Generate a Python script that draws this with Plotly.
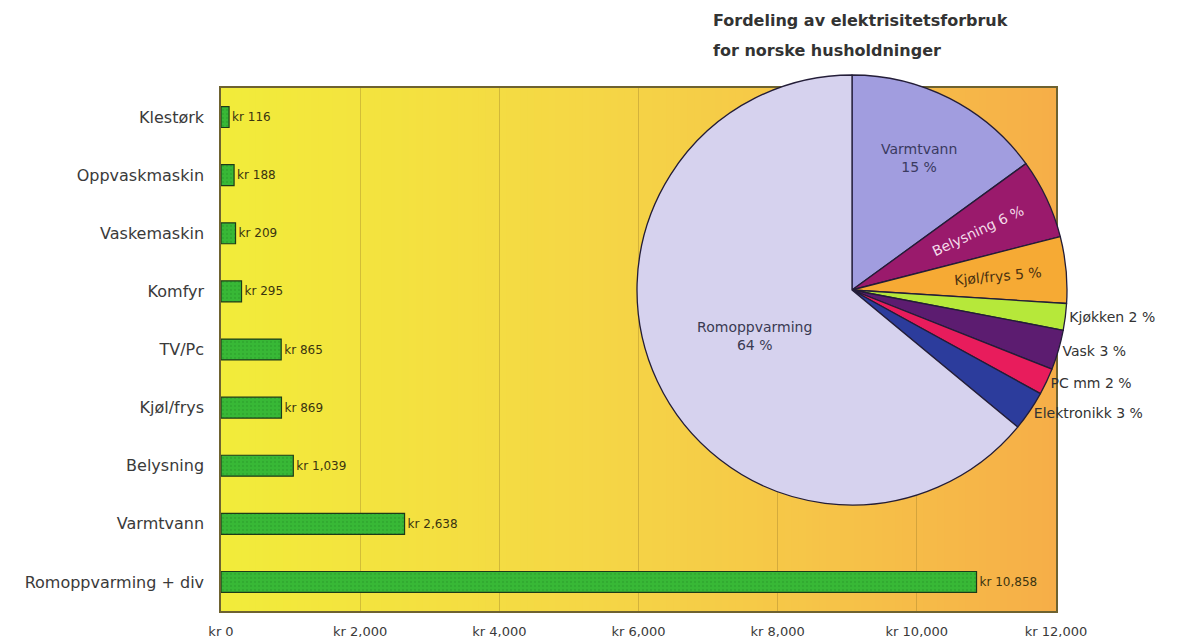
import plotly.graph_objects as go

# Annual electricity cost per appliance group (NOK)
categories = ["Romoppvarming + div", "Varmtvann", "Belysning", "Kjøl/frys", "TV/Pc",
              "Komfyr", "Vaskemaskin", "Oppvaskmaskin", "Klestørk"]
costs = [10858, 2638, 1039, 869, 865, 295, 209, 188, 116]

# Share of household electricity use (%)
pie_labels = ["Varmtvann", "Belysning", "Kjøl/frys", "Kjøkken", "Vask", "PC mm",
              "Elektronikk", "Romoppvarming"]
pie_shares = [15, 6, 5, 2, 3, 2, 3, 64]
pie_colors = ["#a19ddf", "#9a1a6c", "#f6aa34", "#b6e83a", "#5c1c70", "#e81c5c",
              "#2c3c9c", "#d6d2ee"]
pie_textpos = ["inside", "inside", "inside", "outside", "outside", "outside",
               "outside", "inside"]
pie_linebreak = {"Varmtvann", "Romoppvarming"}

title_lines = ["Fordeling av elektrisitetsforbruk", "for norske husholdninger"]

x_ticks = [0, 2000, 4000, 6000, 8000, 10000, 12000]

W, H = 1181, 639
FONT = "DejaVu Sans"
TEXT = "#3a3a3a"

fig = go.Figure()

fig.add_trace(go.Bar(
    y=categories, x=costs, orientation="h",
    width=0.36,
    marker=dict(color="#38b836", line=dict(color="#1d3a18", width=1.2),
                pattern=dict(shape=".", fgcolor="#2a9a2a", size=4, solidity=0.25)),
    text=[f"kr {v:,}" for v in costs],
    textposition="outside", cliponaxis=False,
    textfont=dict(family=FONT, size=12, color="#3a3410"),
    hoverinfo="skip", showlegend=False,
))

pie_text = [f"{l}<br>{v} %" if l in pie_linebreak else f"{l} {v} %"
            for l, v in zip(pie_labels, pie_shares)]
cx, cy, r = 852, 290, 215
fig.add_trace(go.Pie(
    labels=pie_labels, values=pie_shares, text=pie_text,
    textinfo="text", textposition=pie_textpos,
    insidetextorientation="auto",
    sort=False, direction="clockwise", rotation=0,
    marker=dict(colors=pie_colors, line=dict(color="#231d38", width=1.3)),
    textfont=dict(family=FONT, size=14, color="#3a3a52"),
    insidetextfont=dict(family=FONT, size=14,
                        color=["#3a3a60", "#f4dcea", "#4a3010", "#333", "#333",
                               "#333", "#333", "#3a3a52"]),
    outsidetextfont=dict(family=FONT, size=14, color="#333333"),
    domain=dict(x=[(cx - r) / W, (cx + r) / W], y=[(H - cy - r) / H, (H - cy + r) / H]),
    showlegend=False, hoverinfo="skip",
))

# Yellow-to-orange background of the bar plot area
def lerp(c1, c2, t):
    return tuple(round(a + (b - a) * t) for a, b in zip(c1, c2))

stops = [(0.0, (242, 236, 58)), (0.45, (245, 214, 70)), (0.75, (246, 194, 72)),
         (1.0, (246, 174, 72))]
shapes = []
n = 120
for i in range(n):
    t = (i + 0.5) / n
    for (t0, c0), (t1, c1) in zip(stops[:-1], stops[1:]):
        if t0 <= t <= t1:
            col = lerp(c0, c1, (t - t0) / (t1 - t0))
            break
    shapes.append(dict(type="rect", xref="x domain", yref="y domain",
                       x0=i / n, x1=(i + 1) / n + 0.002, y0=0, y1=1,
                       fillcolor="rgb(%d,%d,%d)" % col, line=dict(width=0),
                       layer="below"))

# Two-line pie heading, with generous line spacing
title_ann = [dict(text=f"<b>{line}</b>", xref="paper", yref="paper",
                  x=711 / W, y=1 - (20 + 30 * k) / H,
                  xanchor="left", yanchor="middle", showarrow=False,
                  font=dict(family=FONT, size=16, color="#333333"))
             for k, line in enumerate(title_lines)]

fig.update_layout(
    width=W, height=H,
    margin=dict(l=0, r=0, t=0, b=0, pad=0, autoexpand=False),
    paper_bgcolor="white", plot_bgcolor="rgba(0,0,0,0)",
    shapes=shapes,
    font=dict(family=FONT, color=TEXT),
    xaxis=dict(domain=[221 / W, 1056 / W], range=[0, 12000],
               tickvals=x_ticks, ticktext=[f"kr {v:,}" for v in x_ticks],
               tickfont=dict(family=FONT, size=13, color=TEXT),
               ticklabelstandoff=8,
               showgrid=True, gridcolor="rgba(150,120,40,0.35)", gridwidth=1,
               showline=True, linecolor="#6e6230", linewidth=1.5, mirror=True,
               ticks="", zeroline=False, fixedrange=True, automargin=False),
    yaxis=dict(domain=[(H - 611) / H, (H - 88) / H], range=[-0.5, 8.5],
               tickfont=dict(family=FONT, size=16, color=TEXT),
               ticklabelstandoff=12,
               showgrid=False, showline=True, linecolor="#6e6230", linewidth=1.5,
               mirror=True, ticks="", ticklen=0, fixedrange=True, automargin=False),
    bargap=0.6,
    annotations=title_ann,
)

fig.write_html("out.html")
